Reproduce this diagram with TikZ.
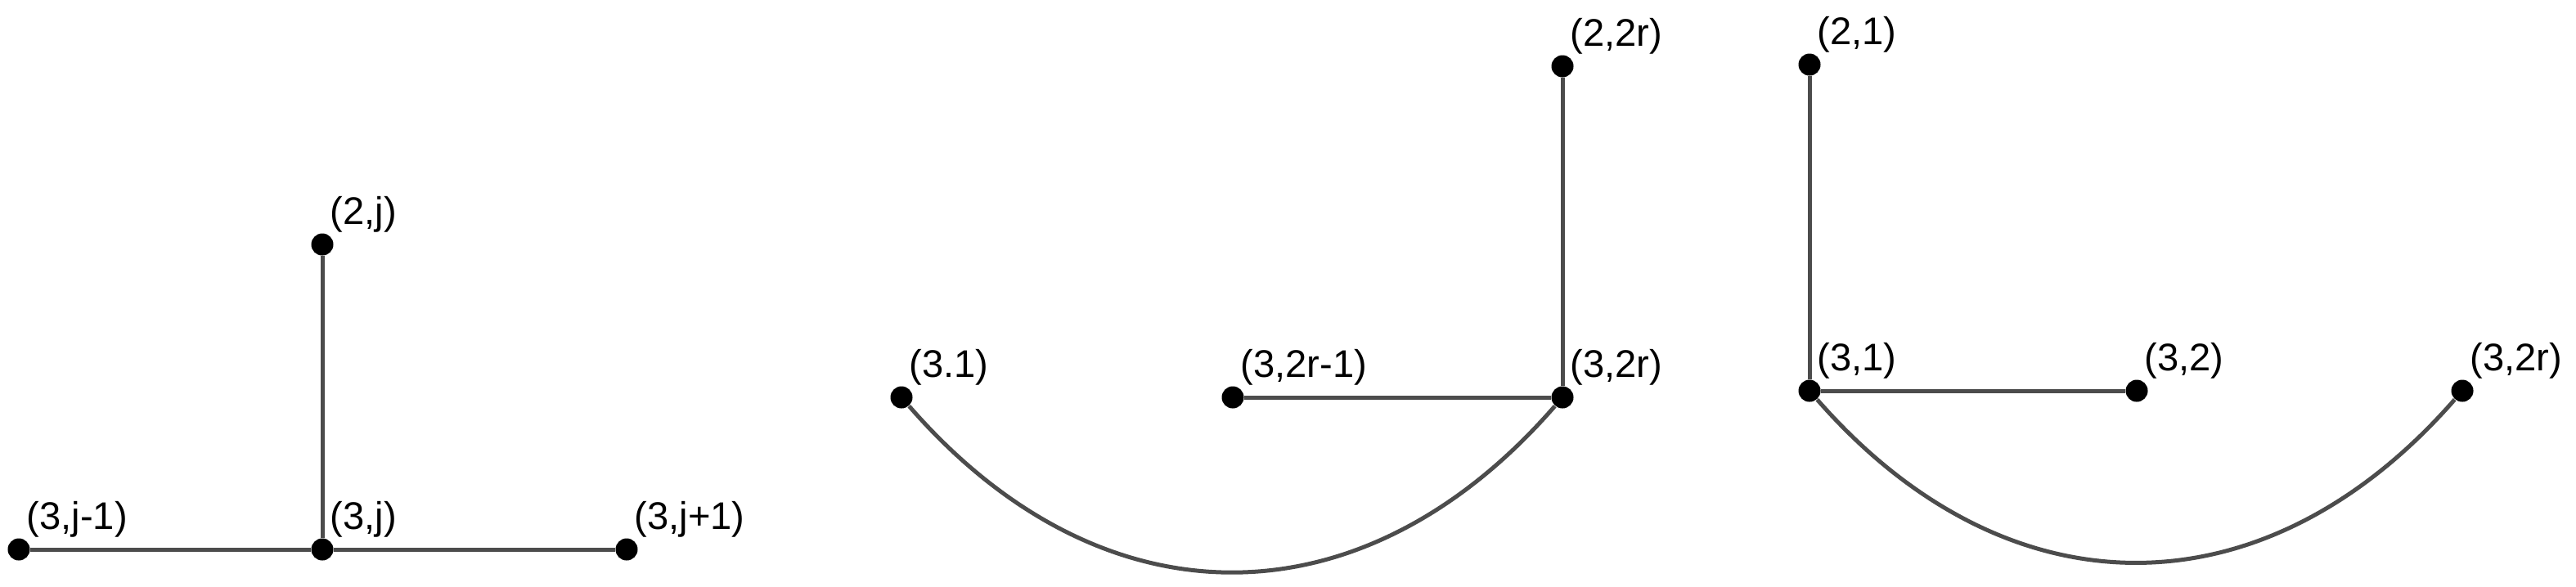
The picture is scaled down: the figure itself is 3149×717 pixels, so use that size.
\documentclass[tikz,border=0pt]{standalone}
\usepackage{fontspec}
\setmainfont{Liberation Sans}
\begin{document}
\begin{tikzpicture}[x=0.01cm,y=-0.01cm,
  dot/.style={circle,fill=black,inner sep=0pt,minimum size=0.27cm},
  lbl/.style={anchor=base west,inner sep=0pt,font=\fontsize{13.4pt}{16pt}\selectfont},
  edge/.style={draw=black!70,line width=0.05cm}]
\useasboundingbox (0,0) rectangle (3149,717);
% left panel
\node[dot] (a1) at (23,672) {};
\node[dot] (a2) at (394,672) {};
\node[dot] (a3) at (766,672) {};
\node[dot] (a4) at (394,299) {};
% middle panel
\node[dot] (b1) at (1102,486) {};
\node[dot] (b2) at (1507,486) {};
\node[dot] (b3) at (1910,486) {};
\node[dot] (b4) at (1910,81) {};
% right panel
\node[dot] (c1) at (2212,79) {};
\node[dot] (c2) at (2212,478) {};
\node[dot] (c3) at (2612,478) {};
\node[dot] (c4) at (3010,478) {};
% labels
\node[lbl] (la1) at ([shift={(9,-25)}]a1.center) {(3,j-1)};
\node[lbl] (la2) at ([shift={(9,-25)}]a2.center) {(3,j)};
\node[lbl] (la3) at ([shift={(9,-25)}]a3.center) {(3,j+1)};
\node[lbl] (la4) at ([shift={(9,-25)}]a4.center) {(2,j)};
\node[lbl] (lb1) at ([shift={(9,-25)}]b1.center) {(3.1)};
\node[lbl] (lb2) at ([shift={(9,-25)}]b2.center) {(3,2r-1)};
\node[lbl] (lb3) at ([shift={(9,-25)}]b3.center) {(3,2r)};
\node[lbl] (lb4) at ([shift={(9,-25)}]b4.center) {(2,2r)};
\node[lbl] (lc1) at ([shift={(9,-25)}]c1.center) {(2,1)};
\node[lbl] (lc2) at ([shift={(9,-25)}]c2.center) {(3,1)};
\node[lbl] (lc3) at ([shift={(9,-25)}]c3.center) {(3,2)};
\node[lbl] (lc4) at ([shift={(9,-25)}]c4.center) {(3,2r)};
% edges
\draw[edge] (a1) -- (a2);
\draw[edge] (a2) -- (a3);
\draw[edge] (a2) -- (a4);
\draw[edge] (b2) -- (b3);
\draw[edge] (b3) -- (b4);
\draw[edge] (b1) .. controls +(245,282) and +(-245,282) .. (b3);
\draw[edge] (c2) -- (c1);
\draw[edge] (c2) -- (c3);
\draw[edge] (c2) .. controls +(242,277) and +(-242,277) .. (c4);
\end{tikzpicture}
\end{document}
